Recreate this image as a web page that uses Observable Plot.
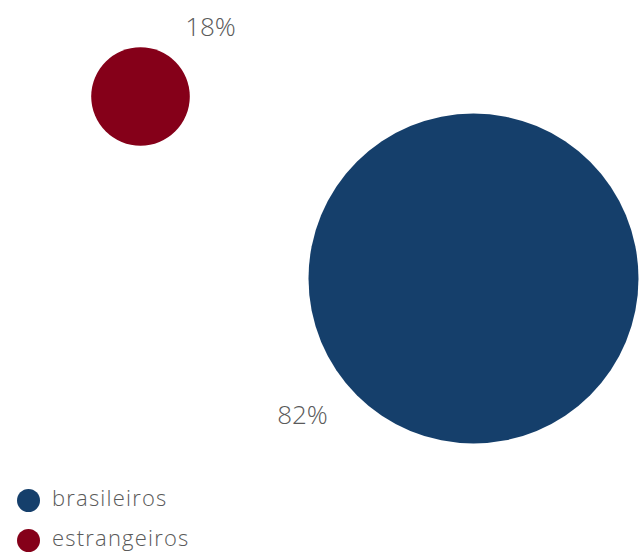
<!DOCTYPE html>
<html>
<head>
<meta charset="utf-8">
<script src="https://cdn.jsdelivr.net/npm/d3@7"></script>
<script src="https://cdn.jsdelivr.net/npm/@observablehq/plot@0.6"></script>
<style>
  body { margin: 0; background: #fff; font-family: "Open Sans", Lato, sans-serif; }
  #wrap { position: relative; width: 641px; height: 553px; overflow: hidden; }
  #legend { position: absolute; left: 17px; top: 480px; }
  .row { display: flex; align-items: center; height: 40px; }
  .sw { width: 23px; height: 23px; border-radius: 50%; margin-right: 12px; flex: none; }
  .lab { font-size: 22px; font-weight: 300; color: #5a5a5a; letter-spacing: 1.2px; line-height: 1; position: relative; top: -3px; }
</style>
</head>
<body>
<div id="wrap"><div id="chart"></div><div id="legend"></div></div>
<script>
const categories = ["brasileiros", "estrangeiros"];
const values = [82, 18];
const labels = ["82%", "18%"];
const colors = ["#153f6b", "#850019"];

const data = categories.map((c, i) => ({category: c, value: values[i], label: labels[i]}));

const plot = Plot.plot({
  width: 641,
  height: 470,
  margin: 0,
  x: {type: "point", domain: ["estrangeiros", "brasileiros"], range: [140, 473], padding: 0, axis: null},
  y: {type: "point", domain: ["estrangeiros", "brasileiros"], range: [95.5, 277.5], padding: 0, axis: null},
  r: {type: "linear", domain: [18, 82], range: [49.3, 165]},
  color: {domain: categories, range: colors},
  style: {fontFamily: "'Open Sans', Lato, sans-serif", background: "#fff"},
  marks: [
    Plot.dot(data, {x: "category", y: "category", r: "value", fill: "category", stroke: null}),
    Plot.text(data.filter(d => d.category === "estrangeiros"), {
      x: "category", y: "category", text: "label", dx: 70, dy: -69,
      fontSize: 26, fontWeight: 300, fill: "#5a5a5a", textAnchor: "middle", lineAnchor: "middle"
    }),
    Plot.text(data.filter(d => d.category === "brasileiros"), {
      x: "category", y: "category", text: "label", dx: -171, dy: 137,
      fontSize: 26, fontWeight: 300, fill: "#5a5a5a", textAnchor: "middle", lineAnchor: "middle"
    })
  ]
});
document.getElementById("chart").appendChild(plot);

const legend = document.getElementById("legend");
categories.forEach((c, i) => {
  const row = document.createElement("div");
  row.className = "row";
  const sw = document.createElement("span");
  sw.className = "sw";
  sw.style.background = colors[i];
  const lab = document.createElement("span");
  lab.className = "lab";
  lab.textContent = c;
  row.appendChild(sw);
  row.appendChild(lab);
  legend.appendChild(row);
});
</script>
</body>
</html>
